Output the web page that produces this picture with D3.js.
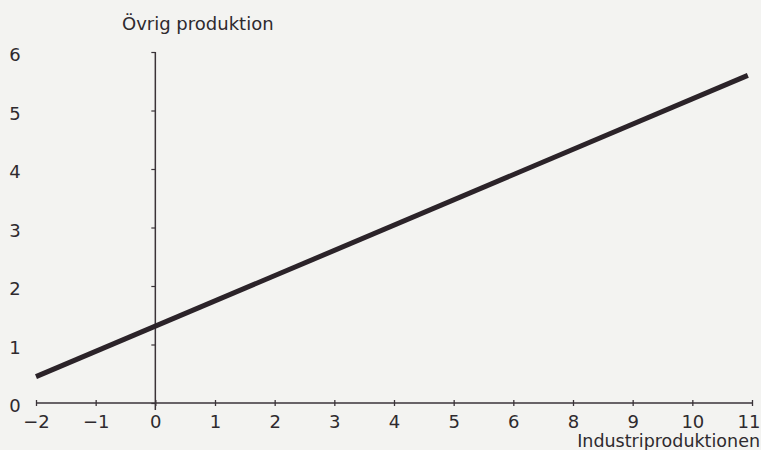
<!DOCTYPE html>
<html>
<head>
<meta charset="utf-8">
<script src="https://cdn.jsdelivr.net/npm/d3@7"></script>
<style>
  body { margin: 0; background: #f3f3f1; }
  svg { display: block; }
  text { font-family: "DejaVu Sans", sans-serif; fill: #2e2a2e; }
</style>
</head>
<body>
<div id="chart"></div>
<script>
// tick positions and the labels printed under them (the original skips "7")
const xTicks = [-2, -1, 0, 1, 2, 3, 4, 5, 6, 7, 8, 9, 10];
const xTickLabels = ['\u22122', '\u22121', '0', '1', '2', '3', '4', '5', '6', '8', '9', '10', '11'];
const yTicks = [0, 1, 2, 3, 4, 5, 6];

// regression line, end points
const lineX = [-2, 9.93];
const lineY = [0.45, 5.6];

const xTitle = 'Industriproduktionen';
const yTitle = '\u00d6vrig produktion';

const width = 761, height = 450;

const svg = d3.select('#chart').append('svg')
  .attr('width', width)
  .attr('height', height);

const x = d3.scaleLinear().domain([-2, 10]).range([36, 752]);
const y = d3.scaleLinear().domain([0, 6]).range([403, 52]);

const axisColor = '#3a3338';

// x axis
const gx = svg.append('g')
  .attr('transform', `translate(0,${y(0)})`)
  .call(d3.axisBottom(x)
    .tickValues(xTicks)
    .tickSize(0)
    .tickPadding(12)
    .tickFormat((d, i) => xTickLabels[i]));

gx.select('.domain').remove();
gx.append('line')
  .attr('x1', x(-2)).attr('x2', x(10))
  .attr('stroke', axisColor).attr('stroke-width', 1.5);
gx.selectAll('.tick').append('line')
  .attr('y1', -3).attr('y2', 3)
  .attr('stroke', axisColor).attr('stroke-width', 1.3);
gx.selectAll('.tick text')
  .style('font-size', '18px')
  .attr('fill', '#2e2a2e');

// last label hugs the right edge of the page
gx.selectAll('.tick text')
  .filter((d, i, n) => i === n.length - 1)
  .attr('text-anchor', 'end')
  .attr('x', 8);

// y axis at x = 0
const gy = svg.append('g')
  .attr('transform', `translate(${x(0)},0)`)
  .call(d3.axisLeft(y)
    .tickValues(yTicks)
    .tickSize(4)
    .tickFormat(''));

gy.select('.domain').remove();
gy.append('line')
  .attr('y1', y(6)).attr('y2', y(0) + 7)
  .attr('stroke', axisColor).attr('stroke-width', 1.5);
gy.selectAll('.tick line')
  .attr('stroke', axisColor).attr('stroke-width', 1.2);

// y labels sit far to the left of the axis
svg.append('g').selectAll('text')
  .data(yTicks)
  .join('text')
  .attr('x', 15)
  .attr('y', d => y(d) + 3)
  .attr('dy', '0.35em')
  .attr('text-anchor', 'middle')
  .style('font-size', '18px')
  .text(d => d);

// titles
svg.append('text')
  .attr('x', 122)
  .attr('y', 30)
  .style('font-size', '18px')
  .text(yTitle);

svg.append('text')
  .attr('x', 760)
  .attr('y', 447)
  .attr('text-anchor', 'end')
  .style('font-size', '17.5px')
  .text(xTitle);

// the line
const pts = lineX.map((d, i) => [d, lineY[i]]);
svg.append('path')
  .datum(pts)
  .attr('fill', 'none')
  .attr('stroke', '#2b2329')
  .attr('stroke-width', 5)
  .attr('d', d3.line().x(d => x(d[0])).y(d => y(d[1])));
</script>
</body>
</html>
